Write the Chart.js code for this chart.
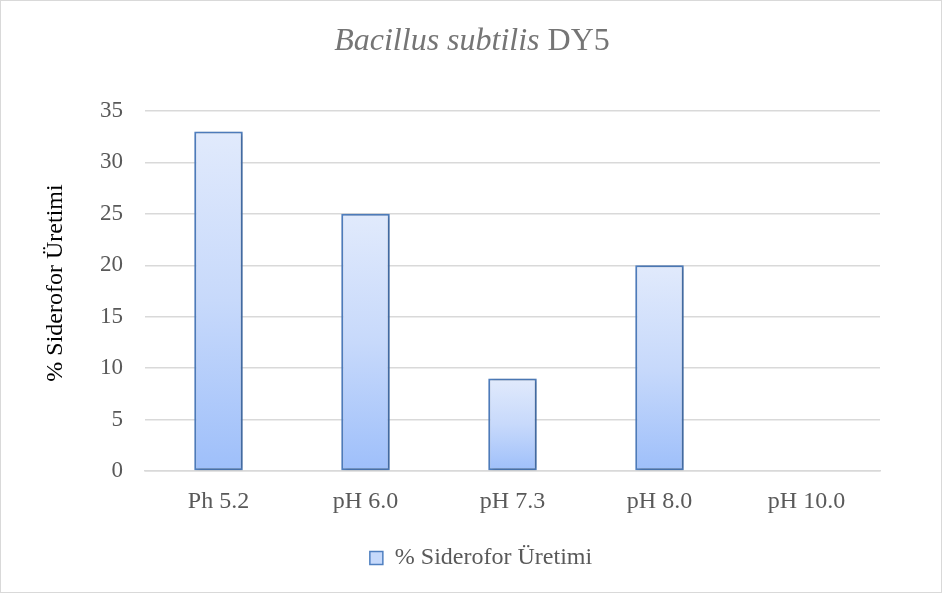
<!DOCTYPE html>
<html>
<head>
<meta charset="utf-8">
<script src="https://cdn.jsdelivr.net/npm/chart.js@4/dist/chart.umd.min.js"></script>
<style>
  html, body { margin: 0; padding: 0; background: #fff; }
  #wrap { width: 942px; height: 593px; position: relative; }
</style>
</head>
<body>
<div id="wrap"><canvas id="c" width="942" height="593"></canvas></div>
<script>
// pH conditions and siderophore production (%)
const categories = ['Ph 5.2', 'pH 6.0', 'pH 7.3', 'pH 8.0', 'pH 10.0'];
const siderophoreValues = [33, 25, 9, 20, 0];
const seriesName = '% Siderofor Üretimi';
const yTicks = [0, 5, 10, 15, 20, 25, 30, 35];

const SERIF = "'Liberation Serif', 'Times New Roman', serif";

// per-bar vertical gradient: light at the top, deeper blue at the base
function barGradient(ctx) {
  const chart = ctx.chart;
  if (!chart.chartArea || ctx.type !== 'data') return '#c6d9fb';
  const y = chart.scales.y;
  const top = y.getPixelForValue(ctx.raw);
  const base = y.getPixelForValue(0);
  if (Math.abs(base - top) < 1) return '#c6d9fb';
  const g = chart.ctx.createLinearGradient(0, top, 0, base);
  g.addColorStop(0, '#e1eafc');
  g.addColorStop(0.5, '#c7d9fb');
  g.addColorStop(1, '#9ebffa');
  return g;
}

// soft drop shadow under the bars
const barShadow = {
  id: 'barShadow',
  beforeDatasetsDraw(chart) {
    const c = chart.ctx;
    c.save();
    c.shadowColor = 'rgba(0,0,0,0.28)';
    c.shadowBlur = 4;
    c.shadowOffsetX = 1.5;
    c.shadowOffsetY = 1;
  },
  afterDatasetsDraw(chart) {
    chart.ctx.restore();
  }
};

// chart title with italic species name, rotated value-axis title, outer frame
const titlesAndFrame = {
  id: 'titlesAndFrame',
  afterDraw(chart) {
    const c = chart.ctx;
    c.save();
    const italicPart = 'Bacillus subtilis';
    const plainPart = ' DY5';
    const size = 32;
    c.font = 'italic ' + size + 'px ' + SERIF;
    const w1 = c.measureText(italicPart).width;
    c.font = size + 'px ' + SERIF;
    const w2 = c.measureText(plainPart).width;
    const x0 = chart.width / 2 + 1 - (w1 + w2) / 2;
    c.fillStyle = '#757575';
    c.textBaseline = 'middle';
    c.textAlign = 'left';
    c.font = 'italic ' + size + 'px ' + SERIF;
    c.fillText(italicPart, x0, 42);
    c.font = size + 'px ' + SERIF;
    c.fillText(plainPart, x0 + w1, 42);

    // y-axis title, set a little above the plot's vertical centre
    const area = chart.chartArea;
    c.translate(56, (area.top + area.bottom) / 2 - 8);
    c.rotate(-Math.PI / 2);
    c.textAlign = 'center';
    c.fillStyle = '#000000';
    c.font = '24px ' + SERIF;
    c.fillText(seriesName, 0, 0);
    c.restore();

    c.save();
    c.strokeStyle = '#d9d9d9';
    c.lineWidth = 1;
    c.strokeRect(0.5, 0.5, chart.width - 1, chart.height - 1);
    c.restore();
  }
};

new Chart(document.getElementById('c'), {
  type: 'bar',
  data: {
    labels: categories,
    datasets: [{
      label: seriesName,
      data: siderophoreValues,
      backgroundColor: barGradient,
      borderColor: '#4f7fc0',
      borderWidth: 2,
      borderSkipped: false,
      barPercentage: 0.33,
      categoryPercentage: 1
    }]
  },
  options: {
    responsive: false,
    animation: false,
    devicePixelRatio: 1,
    layout: { padding: { top: 111, right: 0, bottom: 13, left: 20 } },
    plugins: {
      title: { display: false },
      tooltip: { enabled: false },
      legend: {
        display: true,
        position: 'bottom',
        labels: {
          font: { family: SERIF, size: 24 },
          color: '#595959',
          boxWidth: 13,
          boxHeight: 13,
          padding: 10,
          generateLabels() {
            return [{
              text: seriesName,
              fillStyle: '#c6d9fb',
              strokeStyle: '#4f7fc0',
              lineWidth: 1.5,
              fontColor: '#595959',
              datasetIndex: 0
            }];
          }
        }
      }
    },
    scales: {
      x: {
        grid: { display: false, drawTicks: false },
        border: { display: true, color: '#d9d9d9', width: 1.5 },
        ticks: {
          font: { family: SERIF, size: 24 },
          color: '#595959',
          padding: 16,
          maxRotation: 0
        },
        afterFit(scale) { scale.height = 65; }
      },
      y: {
        min: 0,
        max: 35,
        afterBuildTicks(scale) { scale.ticks = yTicks.map(v => ({ value: v })); },
        grid: { color: '#d9d9d9', lineWidth: 1.5, drawTicks: false },
        border: { display: false },
        ticks: {
          font: { family: SERIF, size: 23 },
          color: '#595959',
          padding: 22
        },
        title: { display: false },
        afterFit(scale) { scale.width = 125; }
      },
      // empty right-hand gutter so the plot ends where the frame margin begins
      gutter: {
        position: 'right',
        display: true,
        grid: { display: false, drawTicks: false },
        border: { display: false },
        ticks: { display: false },
        afterFit(scale) { scale.width = 62; }
      }
    }
  },
  plugins: [barShadow, titlesAndFrame]
});
</script>
</body>
</html>
